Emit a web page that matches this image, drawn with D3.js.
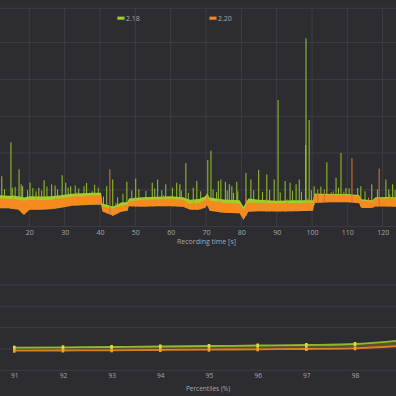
<!DOCTYPE html>
<html>
<head>
<meta charset="utf-8">
<script src="https://cdn.jsdelivr.net/npm/d3@7"></script>
<style>
  html, body { margin: 0; padding: 0; background: #2c2c31; }
  svg { display: block; }
  text { font-family: "Open Sans", "Noto Sans", sans-serif; }
</style>
</head>
<body>
<svg id="chart" width="396" height="396"></svg>
<script>
// series
const seriesNames = ['2.18', '2.20'];
const seriesColors = ['#9fcf2c', '#f58a1f'];

// frametime chart ticks
const timeTicks = [20, 30, 40, 50, 60, 70, 80, 90, 100, 110, 120];
const frameTicks = [0, 10, 20, 30, 40, 50];

// frametime band (min / max per stretch), time [s], values [ms]
const bandTime = [11, 14, 17, 18.5, 20, 23, 26, 29, 32, 35, 38, 40.3, 40.7, 43.7, 46, 47.8, 48.2, 52, 56, 60,
  63.5, 65.5, 68, 69.8, 70.3, 71, 75, 79.5, 80.6, 82, 85, 90, 95, 100.3, 100.7, 105, 110, 113.3, 114, 117, 118, 121, 125];
const high220 = [7.80, 7.61, 7.34, 7.06, 7.34, 7.20, 7.34, 7.75, 8.16, 8.30, 8.57, 8.57, 5.49, 4.86, 5.69, 5.96, 6.87, 7.34, 7.47, 7.61,
  7.34, 6.24, 6.51, 7.34, 8.71, 7.06, 6.51, 6.24, 4.59, 6.51, 6.51, 6.37, 6.43, 6.51, 8.71, 8.57, 8.57, 8.30, 7.06, 6.79, 7.61, 7.75, 7.61];
const low220 = [5.05, 5.00, 4.59, 3.21, 4.59, 4.59, 4.73, 5.14, 5.69, 5.82, 5.96, 5.96, 4.12, 2.94, 4.04, 4.31, 5.55, 5.41, 5.55, 5.55,
  5.41, 4.59, 4.59, 5.14, 5.96, 4.31, 3.76, 3.63, 1.84, 4.04, 4.18, 4.12, 4.18, 4.31, 6.43, 6.65, 6.65, 6.37, 5.05, 5.05, 5.49, 5.49, 5.41];
const high218 = [8.55, 8.40, 8.25, 7.95, 8.25, 8.20, 8.25, 8.55, 8.95, 9.10, 9.25, 9.25, 6.30, 5.50, 6.55, 6.70, 7.65, 8.00, 8.10, 8.25,
  8.00, 7.35, 7.55, 8.25, 9.10, 7.95, 7.40, 7.15, 5.45, 7.65, 7.30, 7.05, 7.15, 7.20, 9.00, 8.85, 8.85, 8.60, 7.45, 7.20, 8.00, 8.05, 8.00];
const low218 = [6.0, 6.0, 5.6, 4.4, 5.6, 5.6, 5.7, 6.1, 6.7, 6.8, 7.0, 7.0, 5.1, 4.0, 5.0, 5.3, 6.5, 6.4, 6.5, 6.5,
  6.4, 5.6, 5.6, 6.1, 7.0, 5.3, 4.8, 4.6, 2.9, 5.0, 5.2, 5.1, 5.2, 5.3, 7.4, 7.6, 7.6, 7.4, 6.0, 6.0, 6.5, 6.5, 6.4];

// frametime spikes [time s, ms]
const spikes218 = [[12.2, 13.7], [14.8, 22.9], [15.2, 10.6], [17.1, 15.6], [17.7, 11.5], [18.1, 11.0], [20.2, 12.0], [21.9, 9.6],
  [22.7, 10.6], [24.2, 12.6], [26.3, 11.5], [27.3, 11.2], [29.3, 14.0], [30.3, 11.9], [31.7, 11.0], [36.2, 11.9], [37.8, 9.6],
  [41.9, 11.0], [43.6, 12.8], [47.6, 12.2], [50.1, 13.1], [54.8, 11.9], [56.3, 12.8], [58.6, 11.5], [61.7, 11.9], [62.6, 11.5],
  [64.3, 17.2], [66.4, 10.6], [67.4, 12.4], [70.5, 18.1], [71.4, 20.6], [73.5, 12.4], [74.2, 12.8], [75.5, 12.2], [76.6, 11.5],
  [77.3, 11.0], [78.7, 12.2], [81.3, 14.6], [82.7, 12.8], [84.9, 15.4], [87.2, 14.2], [89.3, 12.8], [90.4, 34.4], [92.4, 12.4],
  [93.8, 11.9], [95.5, 11.5], [96.4, 12.8], [98.2, 22.2], [98.3, 51.2], [99.2, 29.0], [100.6, 11.0], [104.2, 17.5], [105.4, 9.3],
  [106.8, 13.3], [108.2, 20.0], [109.6, 10.5], [112.9, 10.5], [113.8, 11.0], [116.9, 11.5], [120.9, 12.8], [121.7, 10.1], [122.8, 11.5]];
const spikes220 = [[42.8, 15.6], [101.6, 10.1], [103.5, 10.1], [111.3, 18.6], [119.0, 15.8]];

// short spikes along the top of the band [time s, ms]
const minor218 = [[13, 10.2], [16, 10.8], [19.5, 9.9], [21, 10.5], [23.5, 9.8], [25, 10.9], [28, 10.1], [31, 10.6], [33, 11.2],
  [34, 10.4], [35.5, 11.0], [38.5, 11.4], [39.5, 10.6], [41, 8.2], [45, 8.0], [46.5, 8.9], [49, 9.8], [51, 10.2], [53, 9.7],
  [55.5, 10.4], [57.5, 9.9], [60.5, 10.6], [63, 9.8], [65, 9.2], [68.5, 9.6], [72, 10.1], [73, 9.4], [76, 9.8], [77.8, 9.2],
  [79, 9.6], [83.5, 9.9], [86, 9.4], [88, 10.0], [91, 9.3], [94.5, 9.7], [97, 9.5], [99.8, 9.9], [102.5, 10.9], [107.5, 10.6],
  [110.5, 10.4], [115, 9.6], [118.5, 10.1], [123.5, 10.0]];
const minor220 = [[15.5, 8.6], [22, 8.4], [27.5, 8.5], [33.5, 9.3], [44.5, 6.5], [50, 8.3], [58, 8.5], [66.5, 7.4], [74, 7.6],
  [81.5, 7.3], [87, 7.5], [93, 7.4], [98.8, 7.6], [106, 9.6], [109, 9.5], [116, 7.9], [122, 8.8]];

// percentile chart
const percentiles = [91, 92, 93, 94, 95, 96, 97, 98, 99];
const pct218 = [8.48, 8.63, 8.74, 8.93, 9.11, 9.30, 9.49, 9.86, 11.3];
const pct220 = [7.35, 7.43, 7.50, 7.61, 7.73, 7.88, 7.99, 8.25, 9.2];
const pctValueTicks = [0, 8, 16, 24, 32];

const bg = '#2c2c31';
const gridColor = '#3d3d43';
const textColor = '#a8a8ac';

const svg = d3.select('#chart');
svg.append('rect').attr('width', 396).attr('height', 396).attr('fill', bg);

drawFrametimes();
drawPercentiles();

function spikeLines(g, data, x, y, baseOf, color, opacity, width) {
  g.append('g').selectAll('line').data(data).join('line')
    .attr('x1', d => x(d[0])).attr('x2', d => x(d[0]))
    .attr('y1', d => y(baseOf(d[0]))).attr('y2', d => y(d[1]))
    .attr('stroke', color).attr('stroke-opacity', opacity).attr('stroke-width', width);
}

function drawFrametimes() {
  const x = d3.scaleLinear().domain([20, 120]).range([29.3, 382.7]);
  const y = d3.scaleLinear().domain([0, 59.3]).range([226.7, 8.3]);

  const g = svg.append('g');

  // grid
  g.append('g').selectAll('line').data(timeTicks).join('line')
    .attr('x1', d => x(d)).attr('x2', d => x(d))
    .attr('y1', y(59.3)).attr('y2', y(0))
    .attr('stroke', gridColor).attr('stroke-width', 1);
  g.append('g').selectAll('line').data(frameTicks.concat([59.3])).join('line')
    .attr('x1', 0).attr('x2', 396)
    .attr('y1', d => y(d)).attr('y2', d => y(d))
    .attr('stroke', gridColor).attr('stroke-width', 1);

  // x axis labels
  const xAxis = d3.axisBottom(x).tickValues(timeTicks).tickSize(0).tickPadding(3);
  const ax = g.append('g').attr('transform', `translate(0, ${y(0)})`).call(xAxis);
  ax.select('.domain').remove();
  ax.selectAll('text').attr('fill', textColor).attr('font-size', 7);

  g.append('text')
    .attr('x', 206.5).attr('y', 244)
    .attr('text-anchor', 'middle')
    .attr('fill', textColor).attr('font-size', 7)
    .text('Recording time [s]');

  const baseOf = d3.scaleLinear().domain(bandTime).range(low220);

  // 2.18 band + spikes
  const area218 = d3.area().x((d, i) => x(bandTime[i])).y0((d, i) => y(low218[i])).y1(d => y(d));
  g.append('path').datum(high218)
    .attr('fill', seriesColors[0]).attr('d', area218);
  spikeLines(g, minor218, x, y, baseOf, seriesColors[0], 0.9, 1);
  spikeLines(g, spikes218, x, y, baseOf, seriesColors[0], 0.8, 1.2);

  // 2.20 band + spikes
  const area220 = d3.area().x((d, i) => x(bandTime[i])).y0((d, i) => y(low220[i])).y1(d => y(d));
  g.append('path').datum(high220)
    .attr('fill', seriesColors[1]).attr('d', area220);
  spikeLines(g, minor220, x, y, baseOf, seriesColors[1], 0.9, 1);
  spikeLines(g, spikes220, x, y, baseOf, '#c8743a', 0.9, 1.2);

  // legend
  const legendX = [117.5, 209.5];
  seriesNames.forEach((name, i) => {
    const lg = g.append('g').attr('transform', `translate(${legendX[i]}, 18.3)`);
    lg.append('rect').attr('x', 0).attr('y', -1.5).attr('width', 7).attr('height', 3)
      .attr('fill', seriesColors[i]).attr('stroke', d3.color(seriesColors[i]).darker(1)).attr('stroke-width', 0.5);
    lg.append('text').attr('x', 8.5).attr('y', 2.5)
      .attr('fill', textColor).attr('font-size', 7).text(name);
  });
}

function drawPercentiles() {
  const x = d3.scaleLinear().domain([91, 98]).range([14.3, 355]);
  const y = d3.scaleLinear().domain([0, 40]).range([370.3, 263.7]);

  const g = svg.append('g');

  g.append('g').selectAll('line').data(pctValueTicks).join('line')
    .attr('x1', 0).attr('x2', 396)
    .attr('y1', d => y(d)).attr('y2', d => y(d))
    .attr('stroke', gridColor).attr('stroke-width', 1);

  const xAxis = d3.axisBottom(x).tickValues(percentiles.slice(0, 8)).tickFormat(d3.format('d'))
    .tickSize(0).tickPadding(3);
  const ax = g.append('g').attr('transform', `translate(0, ${y(0)})`).call(xAxis);
  ax.select('.domain').remove();
  ax.selectAll('text').attr('fill', textColor).attr('font-size', 6.5);

  g.append('text')
    .attr('x', 208).attr('y', 391)
    .attr('text-anchor', 'middle')
    .attr('fill', textColor).attr('font-size', 6.5)
    .text('Percentiles (%)');

  // shading between the two curves
  const between = d3.area().curve(d3.curveMonotoneX)
    .x((d, i) => x(percentiles[i])).y0((d, i) => y(pct220[i])).y1(d => y(d));
  g.append('path').datum(pct218).attr('fill', '#5e4f30').attr('d', between);

  const line = d3.line().curve(d3.curveMonotoneX).x((d, i) => x(percentiles[i])).y(d => y(d));
  [pct218, pct220].forEach((vals, i) => {
    g.append('path').datum(vals)
      .attr('fill', 'none').attr('stroke', seriesColors[i])
      .attr('stroke-width', 1.8).attr('stroke-opacity', 0.85)
      .attr('d', line);
  });

  const markColors = ['#d9e03c', '#f0a032'];
  [pct218, pct220].forEach((vals, i) => {
    g.append('g').selectAll('rect').data(vals).join('rect')
      .attr('x', (d, j) => x(percentiles[j]) - 1.3)
      .attr('y', d => y(d) - 2)
      .attr('width', 2.6).attr('height', 4)
      .attr('fill', markColors[i]);
  });
}
</script>
</body>
</html>
